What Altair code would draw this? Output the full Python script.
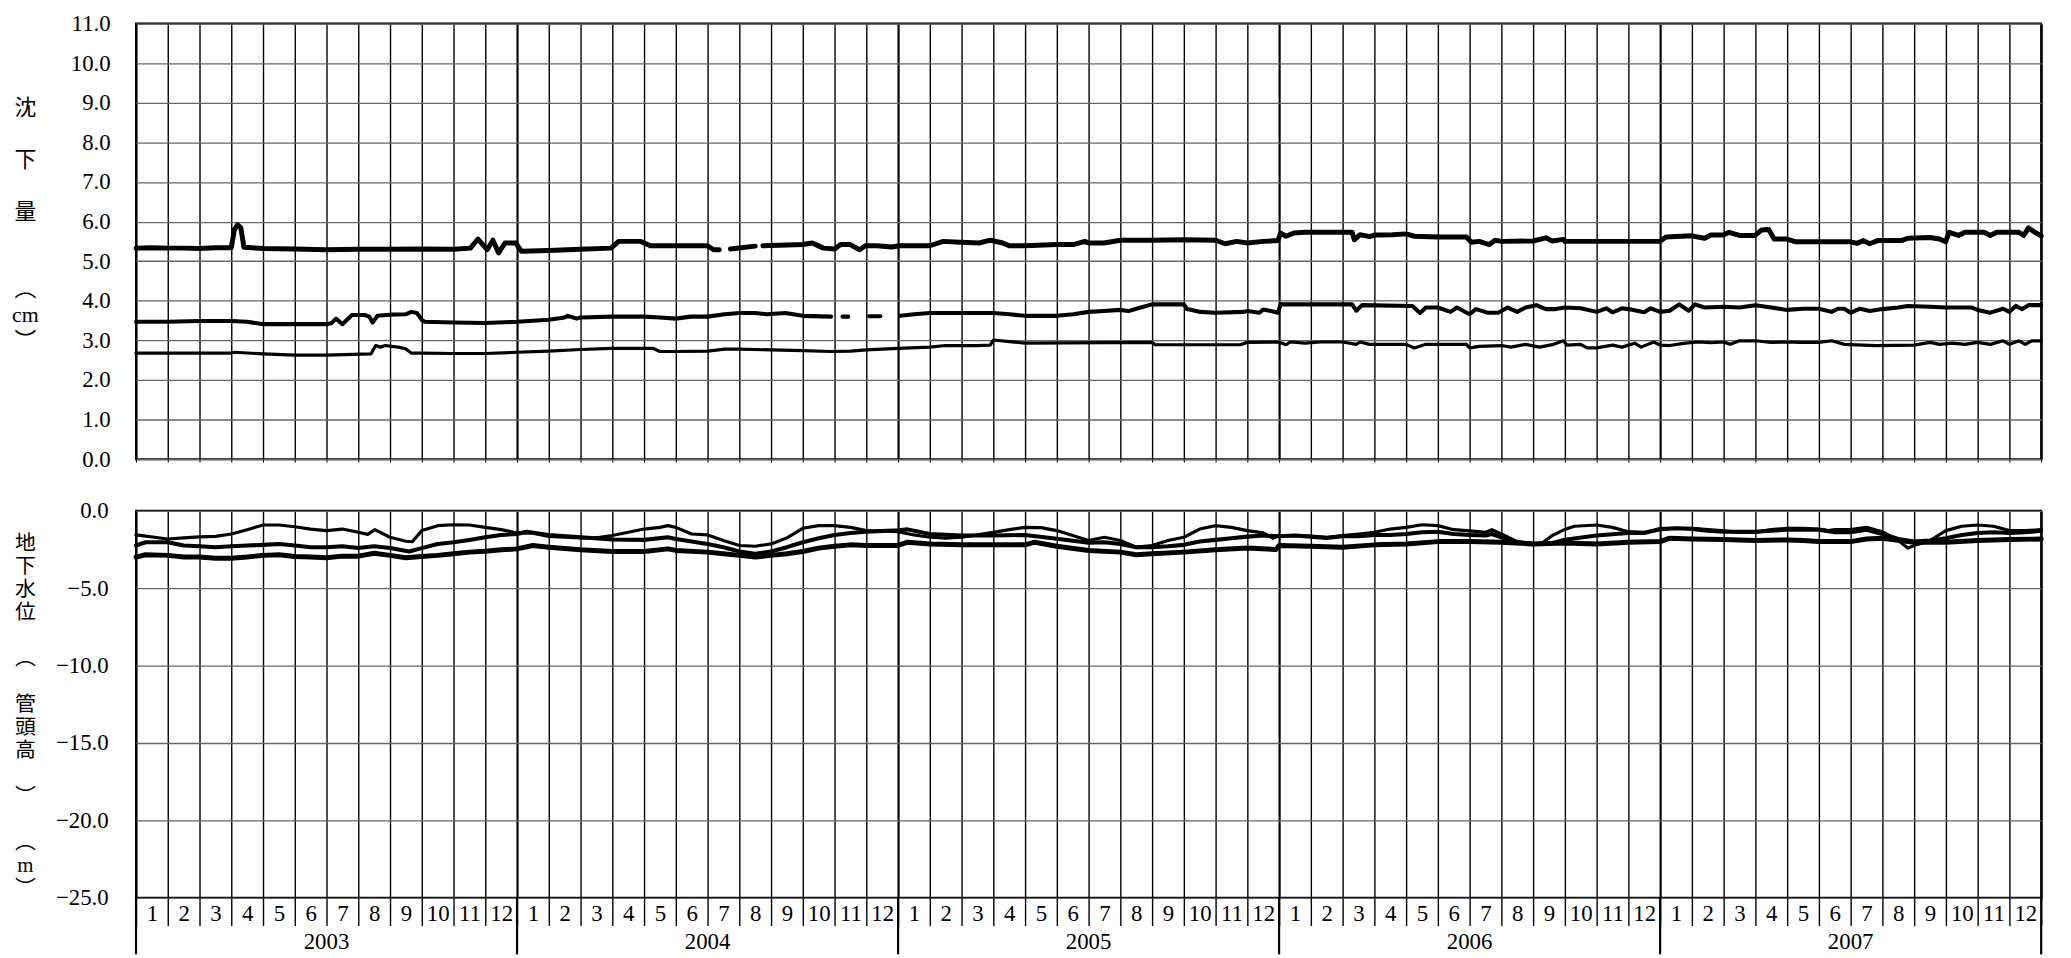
import altair as alt
import pandas as pd

# ---------------- data (t = months since Jan 2003, equal-width months) ----------------
YEARS = [2003, 2004, 2005, 2006, 2007]
N_MONTHS = 12 * len(YEARS)

# subsidence (cm)
sub_thick = [
    (0.0, 5.33), (0.5, 5.34), (1.0, 5.33), (1.5, 5.33), (2.0, 5.32), (2.5, 5.34), (3.0, 5.34),
    (3.1, 5.80), (3.2, 5.92), (3.3, 5.85), (3.4, 5.35), (4.0, 5.32), (5.0, 5.31), (6.0, 5.29),
    (7.0, 5.30), (8.0, 5.30), (9.0, 5.31), (10.0, 5.30), (10.53, 5.33), (10.77, 5.56), (11.06, 5.29),
    (11.24, 5.53), (11.42, 5.21), (11.62, 5.46), (11.96, 5.46), (12.14, 5.25), (13.0, 5.27),
    (14.0, 5.30), (14.96, 5.33), (15.2, 5.50), (15.9, 5.50), (16.2, 5.39), (18.0, 5.39),
    (18.19, 5.29), (18.37, 5.29), (18.5, None), (18.72, 5.31), (19.5, 5.38), (19.6, None),
    (19.74, 5.39), (21.0, 5.42), (21.3, 5.46), (21.65, 5.33), (22.0, 5.31), (22.19, 5.42),
    (22.49, 5.42), (22.79, 5.29), (22.97, 5.39), (23.33, 5.39), (23.8, 5.36), (24.04, 5.39),
    (25.0, 5.39), (25.42, 5.50), (25.96, 5.48), (26.55, 5.46), (26.91, 5.53), (27.3, 5.46),
    (27.5, 5.39), (28.0, 5.39), (29.0, 5.42), (29.52, 5.42), (29.88, 5.50), (30.0, 5.46),
    (30.48, 5.46), (31.0, 5.53), (32.0, 5.53), (33.0, 5.54), (34.0, 5.53), (34.3, 5.44),
    (34.66, 5.50), (35.0, 5.46), (35.5, 5.50), (35.96, 5.52), (36.05, 5.71), (36.22, 5.63),
    (36.46, 5.71), (36.82, 5.73), (38.3, 5.73), (38.37, 5.54), (38.55, 5.67), (38.85, 5.62),
    (39.0, 5.66), (39.57, 5.67), (40.0, 5.69), (40.26, 5.63), (41.0, 5.61), (41.9, 5.61),
    (42.05, 5.48), (42.3, 5.50), (42.62, 5.42), (42.8, 5.53), (43.0, 5.50), (44.0, 5.51),
    (44.4, 5.59), (44.6, 5.51), (44.95, 5.55), (45.0, 5.50), (46.0, 5.50), (47.0, 5.50),
    (47.99, 5.50), (48.18, 5.61), (48.99, 5.64), (49.4, 5.58), (49.6, 5.66), (49.99, 5.66),
    (50.17, 5.73), (50.5, 5.65), (50.99, 5.65), (51.2, 5.79), (51.42, 5.80), (51.59, 5.56),
    (52.0, 5.56), (52.27, 5.49), (54.0, 5.49), (54.2, 5.45), (54.4, 5.52), (54.6, 5.44),
    (54.85, 5.52), (55.6, 5.52), (55.8, 5.58), (56.5, 5.60), (56.8, 5.56), (56.99, 5.49),
    (57.1, 5.73), (57.4, 5.65), (57.6, 5.73), (58.2, 5.73), (58.4, 5.65), (58.6, 5.73),
    (59.3, 5.73), (59.45, 5.65), (59.6, 5.84), (59.8, 5.73), (60.0, 5.64),
]

sub_mid = [
    (0.0, 3.47), (1.0, 3.47), (2.0, 3.49), (3.0, 3.49), (3.5, 3.47), (4.0, 3.41), (5.0, 3.41),
    (6.0, 3.41), (6.15, 3.43), (6.3, 3.55), (6.5, 3.41), (6.8, 3.64), (7.2, 3.64), (7.35, 3.60),
    (7.45, 3.45), (7.6, 3.62), (8.0, 3.65), (8.49, 3.66), (8.67, 3.72), (8.85, 3.69), (9.0, 3.52),
    (9.09, 3.47), (10.0, 3.45), (11.0, 3.44), (12.0, 3.47), (13.0, 3.52), (13.5, 3.58),
    (13.6, 3.62), (13.88, 3.55), (14.0, 3.58), (15.0, 3.60), (16.0, 3.60), (16.5, 3.58),
    (17.0, 3.55), (17.46, 3.60), (18.0, 3.60), (18.54, 3.66), (19.0, 3.69), (19.5, 3.69),
    (19.86, 3.66), (20.45, 3.69), (21.0, 3.62), (21.89, 3.60), (22.0, None), (22.25, 3.60),
    (22.43, 3.60), (22.6, None), (23.09, 3.61), (23.44, 3.61), (23.6, None), (24.07, 3.62),
    (24.5, 3.66), (25.0, 3.69), (26.0, 3.69), (27.0, 3.69), (27.5, 3.66), (28.0, 3.62),
    (29.0, 3.62), (29.52, 3.66), (30.0, 3.72), (30.48, 3.74), (31.0, 3.77), (31.26, 3.74),
    (31.5, 3.80), (32.0, 3.91), (33.0, 3.91), (33.1, 3.79), (33.53, 3.72), (33.98, 3.70),
    (34.9, 3.72), (35.0, 3.74), (35.38, 3.70), (35.5, 3.78), (35.74, 3.74), (35.96, 3.70),
    (36.05, 3.91), (38.3, 3.91), (38.43, 3.75), (38.61, 3.89), (40.2, 3.87), (40.44, 3.69),
    (40.62, 3.83), (41.0, 3.83), (41.4, 3.72), (41.6, 3.83), (42.0, 3.66), (42.2, 3.79),
    (42.56, 3.70), (42.9, 3.70), (43.2, 3.83), (43.5, 3.72), (43.76, 3.83), (44.1, 3.89),
    (44.4, 3.79), (44.7, 3.79), (45.0, 3.83), (45.5, 3.81), (46.0, 3.72), (46.3, 3.81),
    (46.5, 3.71), (46.8, 3.81), (47.0, 3.79), (47.5, 3.71), (47.7, 3.81), (48.0, 3.72),
    (48.3, 3.75), (48.6, 3.91), (48.9, 3.75), (49.1, 3.91), (49.4, 3.83), (50.0, 3.85),
    (50.5, 3.83), (51.0, 3.89), (51.5, 3.83), (52.0, 3.77), (52.5, 3.80), (53.0, 3.80),
    (53.4, 3.72), (53.6, 3.80), (53.8, 3.80), (54.0, 3.70), (54.3, 3.80), (54.6, 3.74),
    (55.0, 3.79), (55.5, 3.83), (55.8, 3.87), (56.5, 3.85), (57.0, 3.83), (57.8, 3.83),
    (58.0, 3.77), (58.4, 3.70), (58.8, 3.80), (59.0, 3.72), (59.2, 3.87), (59.4, 3.79),
    (59.6, 3.89), (60.0, 3.89),
]

sub_thin = [
    (0.0, 2.68), (1.0, 2.68), (2.0, 2.68), (3.0, 2.68), (3.1, 2.70), (4.0, 2.66), (5.0, 2.63),
    (6.0, 2.63), (7.4, 2.66), (7.55, 2.87), (7.7, 2.83), (7.85, 2.87), (8.25, 2.83), (8.49, 2.79),
    (8.67, 2.68), (9.0, 2.68), (10.0, 2.67), (11.0, 2.67), (12.0, 2.70), (13.0, 2.73),
    (14.0, 2.77), (15.0, 2.80), (16.27, 2.80), (16.5, 2.72), (17.0, 2.72), (18.0, 2.73),
    (18.54, 2.78), (19.0, 2.78), (20.0, 2.76), (21.0, 2.74), (21.89, 2.72), (22.5, 2.73),
    (23.0, 2.76), (24.0, 2.80), (25.0, 2.83), (25.5, 2.87), (26.5, 2.87), (26.9, 2.88),
    (27.0, 3.01), (27.5, 2.97), (28.0, 2.93), (32.0, 2.95), (32.1, 2.89), (34.78, 2.89),
    (35.0, 2.95), (35.98, 2.96), (36.22, 2.89), (36.35, 2.96), (36.82, 2.93), (37.3, 2.96),
    (38.0, 2.96), (38.43, 2.90), (38.55, 2.96), (38.85, 2.90), (40.0, 2.90), (40.26, 2.81),
    (40.62, 2.90), (41.9, 2.90), (42.0, 2.81), (42.3, 2.85), (43.0, 2.87), (43.3, 2.83),
    (43.76, 2.90), (44.2, 2.83), (44.65, 2.90), (44.95, 2.99), (45.07, 2.88), (45.5, 2.90),
    (45.7, 2.81), (46.0, 2.81), (46.5, 2.88), (46.8, 2.83), (47.2, 2.93), (47.4, 2.83),
    (47.8, 2.96), (48.0, 2.88), (48.3, 2.87), (48.8, 2.93), (49.2, 2.96), (49.6, 2.94),
    (50.0, 2.96), (50.2, 2.90), (50.5, 2.99), (51.0, 2.99), (51.5, 2.95), (52.0, 2.96),
    (52.4, 2.95), (53.0, 2.95), (53.4, 2.99), (53.8, 2.90), (54.8, 2.87), (56.0, 2.88),
    (56.5, 2.95), (56.8, 2.90), (57.2, 2.93), (57.6, 2.90), (58.0, 2.95), (58.4, 2.90),
    (58.8, 2.99), (59.0, 2.90), (59.3, 2.99), (59.5, 2.90), (59.7, 2.99), (60.0, 2.99),
]

# groundwater level (m below well head)
gw_thin = [
    (0.0, -1.56), (1.0, -1.82), (1.5, -1.75), (2.0, -1.69), (2.5, -1.65), (3.0, -1.50),
    (3.5, -1.22), (4.0, -0.92), (4.5, -0.92), (5.0, -1.03), (5.5, -1.18), (6.0, -1.28),
    (6.5, -1.18), (7.0, -1.39), (7.3, -1.52), (7.52, -1.22), (8.0, -1.71), (8.5, -1.97),
    (8.7, -2.00), (9.0, -1.28), (9.5, -0.96), (10.0, -0.90), (10.5, -0.92), (11.0, -1.07),
    (11.5, -1.22), (12.0, -1.43), (12.5, -1.45), (13.0, -1.65), (14.0, -1.75), (14.5, -1.75),
    (15.0, -1.60), (15.5, -1.39), (16.0, -1.18), (16.5, -1.07), (16.75, -0.96), (17.0, -1.07),
    (17.5, -1.50), (18.0, -1.56), (18.5, -1.92), (19.0, -2.24), (19.5, -2.29), (20.0, -2.14),
    (20.5, -1.75), (21.0, -1.13), (21.5, -0.96), (22.0, -0.96), (22.5, -1.07), (23.0, -1.28),
    (23.5, -1.30), (24.0, -1.35), (24.5, -1.56), (25.0, -1.71), (25.5, -1.77), (26.0, -1.71),
    (26.5, -1.56), (27.0, -1.39), (27.5, -1.22), (28.0, -1.07), (28.5, -1.09), (29.0, -1.28),
    (29.5, -1.60), (30.0, -1.92), (30.5, -1.71), (31.0, -1.92), (31.5, -2.35), (32.0, -2.24),
    (32.5, -1.92), (33.0, -1.71), (33.5, -1.18), (34.0, -0.96), (34.5, -1.07), (35.0, -1.28),
    (35.5, -1.43), (35.8, -1.77), (36.0, -1.60), (36.5, -1.60), (37.0, -1.65), (37.5, -1.73),
    (38.0, -1.60), (38.5, -1.50), (39.0, -1.39), (39.5, -1.18), (40.0, -1.07), (40.5, -0.90),
    (41.0, -0.96), (41.5, -1.22), (42.0, -1.30), (42.5, -1.39), (42.7, -1.22), (43.0, -1.50),
    (43.5, -1.99), (44.0, -2.14), (44.3, -2.07), (44.6, -1.60), (45.0, -1.20), (45.3, -1.00),
    (46.0, -0.92), (46.5, -1.07), (47.0, -1.35), (47.5, -1.39), (48.0, -1.22), (48.5, -1.13),
    (49.0, -1.13), (49.5, -1.22), (50.0, -1.30), (50.5, -1.39), (51.0, -1.39), (51.5, -1.22),
    (52.0, -1.13), (52.5, -1.13), (53.0, -1.18), (53.3, -1.28), (53.5, -1.22), (54.0, -1.22),
    (54.5, -1.07), (55.0, -1.35), (55.5, -1.92), (55.8, -2.41), (56.0, -2.24), (56.5, -1.92),
    (57.0, -1.28), (57.5, -1.00), (58.0, -0.92), (58.5, -1.00), (59.0, -1.28), (59.5, -1.28),
    (60.0, -1.22),
]

gw_mid = [
    (0.0, -2.24), (0.3, -2.03), (1.0, -2.03), (1.5, -2.24), (2.0, -2.29), (2.5, -2.35),
    (3.0, -2.29), (3.5, -2.24), (4.0, -2.20), (4.5, -2.14), (5.0, -2.24), (5.5, -2.35),
    (6.0, -2.35), (6.5, -2.29), (7.0, -2.41), (7.5, -2.29), (8.0, -2.41), (8.6, -2.63),
    (9.0, -2.41), (9.5, -2.14), (10.0, -2.03), (10.5, -1.88), (11.0, -1.71), (11.5, -1.56),
    (12.0, -1.50), (12.3, -1.35), (13.0, -1.56), (14.0, -1.71), (15.0, -1.86), (16.0, -1.88),
    (16.75, -1.71), (17.0, -1.82), (17.5, -1.98), (18.0, -2.14), (18.5, -2.35), (19.0, -2.63),
    (19.5, -2.78), (20.0, -2.63), (20.5, -2.35), (21.0, -2.03), (21.5, -1.77), (22.0, -1.56),
    (22.5, -1.43), (23.0, -1.35), (23.5, -1.30), (24.0, -1.26), (24.3, -1.20), (25.0, -1.50),
    (26.0, -1.60), (27.0, -1.60), (28.0, -1.56), (29.0, -1.80), (30.0, -2.07), (30.5, -2.03),
    (31.0, -2.14), (31.5, -2.35), (32.0, -2.35), (32.5, -2.29), (33.0, -2.20), (33.5, -1.99),
    (34.0, -1.88), (34.5, -1.77), (35.0, -1.67), (35.5, -1.60), (36.0, -1.65), (36.5, -1.60),
    (37.0, -1.67), (37.5, -1.75), (38.0, -1.65), (38.5, -1.65), (39.0, -1.56), (39.5, -1.56),
    (40.0, -1.50), (40.5, -1.39), (41.0, -1.35), (41.5, -1.50), (42.0, -1.56), (42.5, -1.60),
    (42.7, -1.50), (43.0, -1.71), (43.5, -2.03), (44.0, -2.14), (44.5, -2.14), (45.0, -1.87),
    (46.0, -1.60), (47.0, -1.43), (47.5, -1.43), (48.0, -1.18), (48.5, -1.13), (49.0, -1.18),
    (49.5, -1.28), (50.0, -1.35), (51.0, -1.35), (51.5, -1.28), (52.0, -1.22), (53.0, -1.22),
    (53.5, -1.39), (54.0, -1.39), (54.5, -1.22), (55.0, -1.50), (55.5, -1.82), (56.0, -1.99),
    (56.5, -1.92), (57.0, -1.77), (57.5, -1.56), (58.0, -1.43), (58.5, -1.39), (59.0, -1.43),
    (59.5, -1.39), (60.0, -1.28),
]

gw_thick = [
    (0.0, -2.99), (0.3, -2.84), (1.0, -2.88), (1.5, -2.99), (2.0, -2.99), (2.5, -3.06),
    (3.0, -3.06), (3.5, -2.99), (4.0, -2.88), (4.5, -2.84), (5.0, -2.95), (5.5, -2.99),
    (6.0, -3.03), (6.5, -2.93), (7.0, -2.93), (7.5, -2.74), (8.0, -2.88), (8.5, -3.03),
    (9.0, -2.95), (9.5, -2.88), (10.0, -2.78), (10.5, -2.67), (11.0, -2.61), (11.5, -2.52),
    (12.0, -2.46), (12.5, -2.24), (13.0, -2.35), (14.0, -2.52), (15.0, -2.63), (16.0, -2.63),
    (16.75, -2.46), (17.0, -2.56), (18.0, -2.67), (18.5, -2.78), (19.0, -2.88), (19.5, -2.99),
    (20.0, -2.88), (20.5, -2.78), (21.0, -2.63), (21.5, -2.41), (22.0, -2.29), (22.5, -2.20),
    (23.0, -2.24), (24.0, -2.24), (24.3, -2.03), (25.0, -2.14), (26.0, -2.20), (27.0, -2.20),
    (28.0, -2.20), (28.3, -2.03), (29.0, -2.29), (30.0, -2.56), (31.0, -2.67), (31.5, -2.84),
    (32.0, -2.78), (33.0, -2.67), (34.0, -2.52), (35.0, -2.41), (35.9, -2.50), (36.0, -2.24),
    (37.0, -2.29), (38.0, -2.35), (39.0, -2.20), (40.0, -2.14), (41.0, -1.99), (42.0, -1.99),
    (43.0, -2.03), (44.0, -2.14), (45.0, -2.08), (46.0, -2.14), (47.0, -2.03), (48.0, -1.99),
    (48.3, -1.77), (49.0, -1.82), (50.0, -1.86), (51.0, -1.92), (52.0, -1.88), (52.5, -1.92),
    (53.0, -1.99), (54.0, -1.99), (54.5, -1.82), (55.0, -1.77), (56.0, -2.03), (57.0, -2.03),
    (58.0, -1.92), (59.0, -1.86), (60.0, -1.82),
]

SERIES_ORDER = ["thick", "mid", "thin"]
Y_TOP_TICKS = list(range(0, 12))
Y_BOT_TICKS = [-25, -20, -15, -10, -5, 0]


def build(series_map):
    rows = []
    for name, pts in series_map.items():
        seg = 0
        for t, v in pts:
            if v is None:
                seg += 1
                continue
            rows.append({"t": t, "v": v, "series": name, "seg": f"{name}-{seg}"})
    return pd.DataFrame(rows)


df_top = build({"thick": sub_thick, "mid": sub_mid, "thin": sub_thin})
df_bot = build({"thick": gw_thick, "mid": gw_mid, "thin": gw_thin})
year_bounds = pd.DataFrame({"t": [12 * i for i in range(len(YEARS) + 1)]})
year_mids = pd.DataFrame({"t": [12 * i + 6 for i in range(len(YEARS))],
                          "label": [str(y) for y in YEARS]})

# ---------------- styling ----------------
NUM_FONT = "Liberation Serif"
JP_FONT = "Liberation Serif, Noto Sans CJK JP, DejaVu Sans"
FS = 23
W = 1920
H_TOP = 439
H_BOT = 390
SP = "\u2800"  # blank line (has an advance width) in the stacked vertical titles

xscale = alt.Scale(domain=[0, N_MONTHS], nice=False, zero=False)
width_scale = alt.Scale(domain=SERIES_ORDER, range=[5.0, 3.2, 1.5])
year_grid = {"condition": {"test": "datum.value % 12 === 0", "value": 2.2}, "value": 1.4}

top_x_axis = alt.Axis(values=list(range(N_MONTHS + 1)), grid=True, gridColor="black",
                      gridWidth=year_grid, gridOpacity=1, labels=False, ticks=True,
                      tickSize=3, tickColor="black", domain=False, title=None)

top_y = alt.Y("v:Q", scale=alt.Scale(domain=[0, 11], nice=False, zero=False),
              axis=alt.Axis(values=Y_TOP_TICKS, format=".1f", grid=True, gridColor="#666666",
                            gridWidth=1.3, ticks=False, tickSize=0, domain=False,
                            labelFont=NUM_FONT, labelFontSize=FS, labelColor="black",
                            labelPadding=26,
                            title=["沈", SP, "下", SP, "量", SP, SP, "︵", "cm", "︶"],
                            titleAngle=0, titleAlign="center", titleBaseline="top",
                            titleX=-112, titleY=75, titleFont=JP_FONT, titleFontSize=22,
                            titleFontWeight="normal", titleLineHeight=26, titleColor="black"))

top = alt.Chart(df_top).mark_line(color="black", strokeJoin="round", strokeCap="round").encode(
    x=alt.X("t:Q", scale=xscale, axis=top_x_axis),
    y=top_y,
    detail="seg:N",
    strokeWidth=alt.StrokeWidth("series:N", scale=width_scale, legend=None),
).properties(width=W, height=H_TOP)

bot_y = alt.Y("v:Q", scale=alt.Scale(domain=[-25, 0], nice=False, zero=False),
              axis=alt.Axis(values=Y_BOT_TICKS, format=".1f", grid=True, gridColor="#666666",
                            gridWidth=1.3, ticks=False, tickSize=0, domain=False,
                            labelFont=NUM_FONT, labelFontSize=FS, labelColor="black",
                            labelPadding=28,
                            title=["地", "下", "水", "位", SP, "︵", SP, "管", "頭", "高", SP,
                                   "︶", SP, "︵", "m", "︶"],
                            titleAngle=0, titleAlign="center", titleBaseline="top",
                            titleX=-112, titleY=22, titleFont=JP_FONT, titleFontSize=21,
                            titleFontWeight="normal", titleLineHeight=23.2, titleColor="black"))

# month gridlines + month separators below the plot + month labels centred in each month
month_axis = alt.Axis(values=list(range(N_MONTHS + 1)), grid=True, gridColor="black",
                      gridWidth=year_grid, gridOpacity=1, ticks=True, tickSize=28,
                      tickWidth=1.4, tickColor="black", domain=False,
                      labelExpr=f"datum.value >= {N_MONTHS} ? '' : '' + ((datum.value % 12) + 1)",
                      labelOffset=16, labelPadding=-23, labelFlush=False, labelOverlap=False,
                      labelFont=NUM_FONT, labelFontSize=FS, labelColor="black",
                      title=None)

lines_b = alt.Chart(df_bot).mark_line(color="black", strokeJoin="round", strokeCap="round").encode(
    x=alt.X("t:Q", scale=xscale, axis=month_axis),
    y=bot_y,
    detail="seg:N",
    strokeWidth=alt.StrokeWidth("series:N", scale=width_scale, legend=None),
)

year_sep = alt.Chart(year_bounds).mark_rule(color="black", strokeWidth=2.2).encode(
    x=alt.X("t:Q", scale=xscale, axis=month_axis),
    y=alt.value(H_BOT),
    y2=alt.value(H_BOT + 57),
)

year_txt = alt.Chart(year_mids).mark_text(font=NUM_FONT, fontSize=FS, color="black",
                                          baseline="middle", align="center").encode(
    x=alt.X("t:Q", scale=xscale, axis=month_axis),
    y=alt.value(H_BOT + 45),
    text="label:N",
)

bottom = alt.layer(lines_b, year_sep, year_txt).properties(width=W, height=H_BOT)

chart = alt.vconcat(top, bottom, spacing=27).properties(
    padding={"left": 2, "top": 0, "right": 5, "bottom": 0},
    background="white",
).configure_view(stroke="black", strokeWidth=2)

chart.save("out.html", embed_options={"renderer": "svg", "actions": False})
